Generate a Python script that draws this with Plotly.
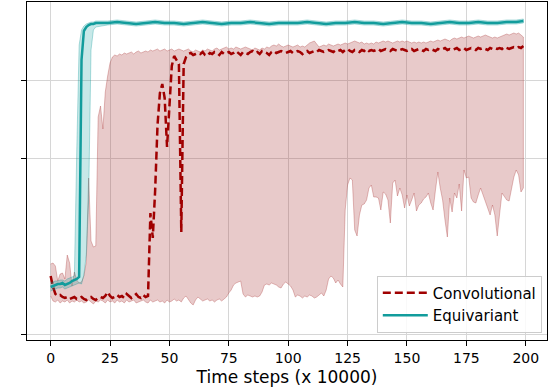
"""Learning curves: convolutional vs equivariant agent (mean line with min/max band)"""

import plotly.graph_objects as go

# ---- data (reward) ----
steps = list(range(200))

conv_mean = [
    58, 47, 40, 38, 39, 37, 36, 37, 35, 36,
    37, 35, 36, 37, 35, 34, 36, 37, 35, 34,
    36, 37, 36, 38, 42, 38, 36, 37, 39, 37,
    38, 36, 40, 38, 36, 38, 40, 37, 36, 39,
    37, 38, 121, 96, 144, 209, 241, 250, 236, 187,
    229, 268, 278, 274, 270, 102, 270, 277, 280, 281,
    279, 280, 281, 280, 282, 279, 278, 281, 280, 282,
    281, 279, 282, 280, 281, 282, 280, 281, 283, 281,
    279, 282, 281, 280, 282, 283, 281, 282, 280, 283,
    282, 281, 279, 282, 283, 281, 282, 283, 282, 281,
    282, 283, 281, 282, 283, 282, 280, 282, 283, 281,
    282, 283, 282, 284, 283, 282, 283, 284, 283, 282,
    284, 283, 284, 282, 284, 285, 283, 282, 284, 283,
    282, 284, 283, 285, 283, 284, 283, 284, 285, 283,
    284, 285, 284, 283, 285, 284, 283, 284, 285, 284,
    283, 284, 285, 283, 284, 285, 284, 283, 285, 284,
    285, 284, 283, 285, 284, 285, 286, 284, 285, 284,
    285, 286, 284, 285, 286, 284, 285, 286, 285, 284,
    286, 285, 286, 285, 284, 286, 285, 286, 285, 286,
    285, 287, 286, 285, 286, 287, 286, 287, 286, 288,
]

conv_lo = [
    38, 33, 32, 34, 31, 33, 32, 34, 31, 33,
    32, 34, 32, 33, 31, 32, 34, 32, 30, 33,
    32, 34, 33, 31, 34, 32, 33, 31, 34, 32,
    33, 31, 34, 32, 33, 34, 31, 32, 33, 34,
    32, 31, 34, 32, 33, 34, 32, 33, 31, 34,
    32, 33, 35, 33, 34, 32, 36, 38, 35, 31,
    29, 34, 37, 35, 33, 34, 35, 33, 34, 32,
    34, 35, 33, 35, 37, 41, 44, 49, 51, 52,
    53, 40, 37, 39, 38, 37, 38, 37, 38, 42,
    49, 50, 49, 51, 50, 49, 47, 46, 50, 52,
    50, 48, 44, 37, 39, 38, 36, 38, 37, 39,
    38, 36, 37, 39, 41, 38, 44, 55, 58, 56,
    51, 54, 50, 47, 124, 149, 156, 154, 104, 98,
    119, 129, 130, 134, 146, 149, 137, 137, 136, 124,
    142, 140, 134, 111, 151, 154, 138, 146, 139, 126,
    139, 128, 134, 141, 123, 129, 131, 135, 137, 141,
    131, 124, 144, 162, 146, 134, 114, 97, 136, 122,
    141, 136, 150, 123, 164, 156, 157, 136, 132, 131,
    139, 146, 139, 134, 126, 119, 129, 119, 98, 120,
    141, 138, 134, 133, 144, 157, 164, 159, 142, 146,
]

conv_hi = [
    70, 71, 68, 53, 60, 61, 55, 79, 71, 48,
    62, 54, 51, 52, 58, 72, 156, 93, 87, 88,
    217, 228, 205, 242, 258, 271, 277, 279, 278, 280,
    279, 281, 280, 281, 282, 280, 282, 283, 281, 282,
    283, 282, 284, 283, 284, 285, 283, 284, 285, 283,
    284, 285, 283, 284, 285, 284, 283, 284, 285, 283,
    282, 284, 283, 282, 284, 283, 285, 284, 283, 285,
    286, 284, 285, 286, 287, 285, 286, 285, 287, 286,
    285, 286, 287, 286, 285, 284, 286, 285, 284, 286,
    285, 287, 286, 288, 289, 288, 290, 288, 287, 288,
    289, 288, 287, 288, 289, 287, 288, 287, 289, 291,
    292, 293, 290, 287, 288, 289, 288, 290, 289, 288,
    289, 290, 289, 290, 291, 290, 291, 292, 293, 292,
    291, 292, 290, 291, 290, 291, 290, 292, 291, 292,
    293, 292, 293, 292, 291, 292, 293, 292, 293, 292,
    293, 292, 291, 292, 291, 292, 291, 292, 291, 292,
    293, 292, 293, 294, 293, 294, 295, 294, 293, 295,
    296, 295, 296, 297, 296, 297, 298, 297, 296, 297,
    298, 297, 298, 299, 298, 297, 296, 297, 296, 297,
    298, 299, 300, 299, 300, 301, 300, 301, 299, 297,
]

eq_steps = list(range(21)) + list(range(24, 197, 4)) + [199]

eq_mean = [
    47, 48, 49, 50, 50, 51, 49, 50, 51, 53,
    54, 55, 57, 274, 303, 307, 309, 310, 310, 311, 311,
    311, 312, 311, 310, 311, 312, 311, 311, 310, 311,
    312, 311, 310, 311, 311, 312, 311, 310, 311, 311,
    311, 312, 311, 310, 311, 311, 312, 311, 311, 310,
    311, 312, 311, 311, 310, 311, 312, 311, 311, 312,
    311, 311, 312, 312, 313,
]

eq_lo = [
    43, 44, 45, 46, 46, 47, 45, 46, 47, 48,
    49, 50, 51, 50, 59, 79, 134, 284, 304, 307, 308,
    309, 310, 309, 308, 309, 310, 309, 309, 308, 309,
    310, 309, 308, 309, 309, 310, 309, 308, 309, 309,
    309, 310, 309, 308, 309, 309, 310, 309, 309, 308,
    309, 310, 309, 309, 308, 309, 310, 309, 309, 310,
    309, 309, 310, 310, 311,
]

eq_hi = [
    51, 52, 53, 53, 54, 54, 53, 55, 56, 57,
    58, 184, 289, 304, 308, 310, 311, 312, 312, 313, 313,
    313, 314, 313, 312, 313, 314, 313, 313, 312, 313,
    314, 313, 312, 313, 313, 314, 313, 312, 313, 313,
    313, 314, 313, 312, 313, 313, 314, 313, 313, 312,
    313, 314, 313, 313, 312, 313, 314, 313, 313, 314,
    313, 313, 314, 314, 315,
]

x_ticks = [0, 25, 50, 75, 100, 125, 150, 175, 200]
y_ticks = [0, 176, 254]

CONV_COLOR = '#a00000'
CONV_FILL = 'rgba(165,42,42,0.25)'
CONV_EDGE = 'rgba(165,42,42,0.30)'
EQ_COLOR = '#129c9c'
EQ_FILL = 'rgba(0,150,150,0.22)'
EQ_EDGE = 'rgba(0,150,150,0.30)'


def create_band(x, lo, hi, fill, edge):
    """Closed polygon between lower and upper curve (like fill_between)"""
    xs = list(x) + list(x)[::-1]
    ys = list(hi) + list(lo)[::-1]
    return go.Scatter(
        x=xs, y=ys,
        mode='lines',
        fill='toself',
        fillcolor=fill,
        line=dict(color=edge, width=1),
        hoverinfo='skip',
        showlegend=False
    )


fig = go.Figure()

fig.add_trace(create_band(steps, conv_lo, conv_hi, CONV_FILL, CONV_EDGE))
fig.add_trace(go.Scatter(
    x=steps, y=conv_mean,
    mode='lines',
    name='Convolutional',
    line=dict(color=CONV_COLOR, width=2.5, dash='8px,4px')
))

fig.add_trace(create_band(eq_steps, eq_lo, eq_hi, EQ_FILL, EQ_EDGE))
fig.add_trace(go.Scatter(
    x=eq_steps, y=eq_mean,
    mode='lines',
    name='Equivariant',
    line=dict(color=EQ_COLOR, width=2.5)
))

axis_style = dict(
    showline=True,
    linecolor='black',
    linewidth=1.3,
    mirror=True,
    ticks='outside',
    ticklen=5,
    tickwidth=1.2,
    tickcolor='black',
    showgrid=True,
    gridcolor='#d6d6d6',
    gridwidth=1,
    zeroline=False,
    automargin=False
)

fig.update_layout(
    width=550,
    height=389,
    margin=dict(l=27, r=3, t=2, b=49),
    paper_bgcolor='white',
    plot_bgcolor='white',
    font=dict(family='DejaVu Sans', size=14, color='black'),
    xaxis=dict(
        range=[-9.95, 208.95],
        tickvals=x_ticks,
        title=dict(text='Time steps (x 10000)', standoff=6),
        **axis_style
    ),
    yaxis=dict(
        range=[-6, 332],
        tickvals=y_ticks,
        showticklabels=False,
        **axis_style
    ),
    legend=dict(
        x=0.99, y=0.022,
        xanchor='right', yanchor='bottom',
        bgcolor='rgba(255,255,255,0.85)',
        bordercolor='#cccccc',
        borderwidth=1,
        itemwidth=45,
        font=dict(size=15)
    ),
    showlegend=True
)

# the page body has a default 8px margin; drop it so the figure sits at the corner
fig.write_html(
    "out.html",
    config={'displayModeBar': False},
    post_script="document.body.style.margin='0px';"
)
